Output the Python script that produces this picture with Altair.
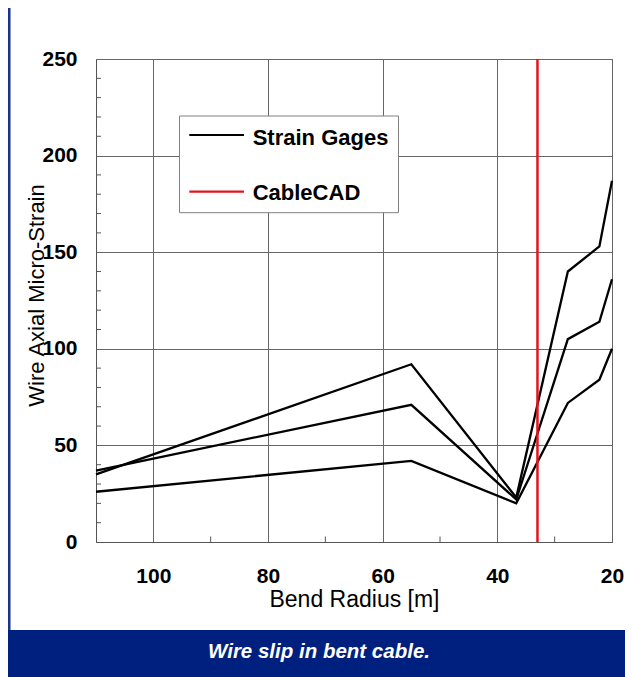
import altair as alt
import pandas as pd

# ---- data ----
bend_radius = [110, 55, 36.7, 27.7, 22.2, 20]
gage_upper = [35, 92, 23, 140, 153, 187]
gage_middle = [37, 71, 22, 105, 114, 136]
gage_lower = [26, 42, 20, 72, 84, 100]
cablecad_radius = [33]

x_tick_labels = [100, 80, 60, 40, 20]
y_tick_labels = [0, 50, 100, 150, 200, 250]
x_minor_ticks = [90, 70, 50, 30]
y_minor_ticks = [10, 20, 30, 40, 60, 70, 80, 90, 110, 120, 130, 140,
                 160, 170, 180, 190, 210, 220, 230, 240]

legend_labels = ["Strain Gages", "CableCAD"]
caption_text = "Wire slip in bent cable."

# ---- styling ----
FONT = "Liberation Sans, Arial, sans-serif"
RED = "#e3141b"
NAVY = "#00207f"
W, H = 516, 483

rows = []
for name, vals in [("upper", gage_upper), ("middle", gage_middle), ("lower", gage_lower)]:
    for r, s in zip(bend_radius, vals):
        rows.append({"series": name, "radius": r, "strain": s})
lines_df = pd.DataFrame(rows)

x_enc = alt.X(
    "radius:Q",
    scale=alt.Scale(domain=[20, 110], reverse=True, nice=False, zero=False),
    axis=alt.Axis(
        values=x_tick_labels, title="Bend Radius [m]", grid=True,
        gridColor="#666666", gridWidth=1, domainColor="#555555", domainWidth=1,
        ticks=False, tickSize=0, labelFont=FONT, labelFontSize=21,
        labelFontWeight="bold", labelColor="black", labelPadding=40,
        labelBaseline="alphabetic", labelFlush=False, labelOverlap=False,
        titleFont=FONT, titleFontSize=23, titleFontWeight="normal",
        titleColor="black", titleY=64.5, titleBaseline="alphabetic",
    ),
)
y_enc = alt.Y(
    "strain:Q",
    scale=alt.Scale(domain=[0, 250], nice=False, zero=False),
    axis=alt.Axis(
        values=y_tick_labels, title="Wire Axial Micro-Strain", grid=True,
        gridColor="#666666", gridWidth=1, domainColor="#555555", domainWidth=1,
        ticks=False, tickSize=0, labelFont=FONT, labelFontSize=21,
        labelFontWeight="bold", labelColor="black", labelPadding=19,
        labelBaseline="middle", labelFlush=False, labelOverlap=False,
        titleFont=FONT, titleFontSize=22, titleFontWeight="normal",
        titleColor="black", titleAngle=270, titleX=-53, titleY=236,
        titleBaseline="alphabetic", titleAlign="center",
    ),
)

y_minor = alt.Chart(pd.DataFrame({"strain": y_minor_ticks})).mark_rule(
    color="#555555", strokeWidth=1
).encode(y=y_enc, x=alt.value(0), x2=alt.value(5))

x_minor = alt.Chart(pd.DataFrame({"radius": x_minor_ticks})).mark_rule(
    color="#555555", strokeWidth=1
).encode(x=x_enc, y=alt.value(H - 5.5), y2=alt.value(H))

lines = alt.Chart(lines_df).mark_line(color="black", strokeWidth=2.3).encode(
    x=x_enc, y=y_enc, detail="series:N"
)

red_rule = alt.Chart(pd.DataFrame({"radius": cablecad_radius})).mark_rule(
    color=RED, strokeWidth=2.5
).encode(x=x_enc)

one = pd.DataFrame({"k": [0]})
legend_box = alt.Chart(one).mark_rect(
    fill="white", stroke="#808080", strokeWidth=1
).encode(x=alt.value(83.5), x2=alt.value(302.5), y=alt.value(57), y2=alt.value(153.7))

leg_sym1 = alt.Chart(one).mark_rule(color="black", strokeWidth=2.2).encode(
    x=alt.value(93.3), x2=alt.value(148), y=alt.value(76))
leg_sym2 = alt.Chart(one).mark_rule(color=RED, strokeWidth=2.2).encode(
    x=alt.value(93.3), x2=alt.value(148), y=alt.value(132.7))

leg_txt1 = alt.Chart(pd.DataFrame({"label": [legend_labels[0]]})).mark_text(
    align="left", baseline="alphabetic", font=FONT, fontSize=22,
    fontWeight="bold", color="black"
).encode(x=alt.value(156.7), y=alt.value(86), text="label:N")
leg_txt2 = alt.Chart(pd.DataFrame({"label": [legend_labels[1]]})).mark_text(
    align="left", baseline="alphabetic", font=FONT, fontSize=22,
    fontWeight="bold", color="black"
).encode(x=alt.value(156.7), y=alt.value(141), text="label:N")

caption_bar = alt.Chart(one).mark_rect(color=NAVY).encode(
    x=alt.value(-88), x2=alt.value(529), y=alt.value(571), y2=alt.value(618))
left_border = alt.Chart(one).mark_rect(color="#1b3190").encode(
    x=alt.value(-88), x2=alt.value(-85.5), y=alt.value(-51), y2=alt.value(571))
caption = alt.Chart(pd.DataFrame({"label": [caption_text]})).mark_text(
    align="center", baseline="alphabetic", font=FONT, fontSize=20.5,
    fontWeight="bold", fontStyle="italic", color="white"
).encode(x=alt.value(223), y=alt.value(599), text="label:N")

chart = alt.layer(
    y_minor, x_minor, lines, red_rule, legend_box, leg_sym1, leg_sym2,
    leg_txt1, leg_txt2, caption_bar, left_border, caption,
).properties(
    width=W, height=H,
    autosize=alt.AutoSizeParams(type="none"),
    padding={"left": 88, "top": 51, "right": 13, "bottom": 135},
    background="white",
).configure_view(stroke="#9a9a9a", strokeWidth=1)

chart.save("out.html", embed_options={"renderer": "svg", "actions": False})
